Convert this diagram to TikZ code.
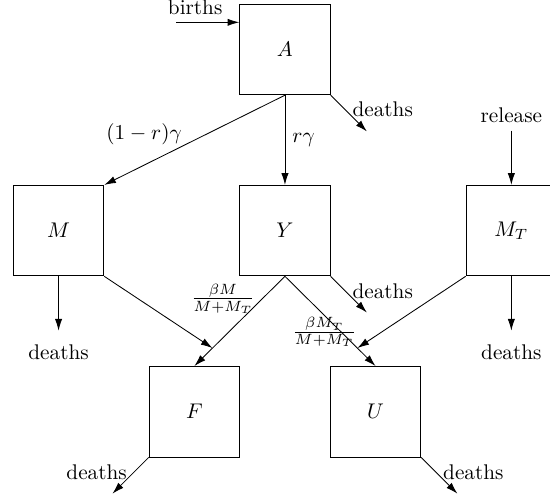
\documentclass[tikz,border=0pt]{standalone}
\usepackage{amsmath}
\usepackage{tikz}
\usetikzlibrary{positioning, arrows.meta}

\begin{document}
\begin{tikzpicture}[>={Latex[length=5.5pt, width=3.4pt]}, node distance=3cm,
    box/.style={draw, rectangle, minimum size=1.5cm}]
  \useasboundingbox (-4.72,-4.47) rectangle (4.39,3.82);

  % Nodes for compartments
  \node [box] (Y) {$Y$};
  \node [box, above of=Y] (A) {$A$};
  \node [box, left of=Y, node distance=3.75cm] (M) {$M$};
  \node [box, right of=Y, node distance=3.75cm] (MT) {$M_T$};
  \node [box] (F) at (-1.5,-3) {$F$};
  \node [box] (U) at (1.5,-3) {$U$};

  % Inflows
  \coordinate (birthsin) at (-1.8,3.45);
  \coordinate (releasein) at ([yshift=0.9cm]MT.north);
  \draw [->] (birthsin) -- (A.west |- birthsin) node [pos=0.3, above] {births};
  \draw [->] (releasein) -- (MT.north) node [pos=0, above] {release};

  % Arrows between compartments
  \draw [->] (A.south) -- (M.north east) node [pos=0.53, left, yshift=4pt] {$(1-r)\gamma$};
  \draw [->] (A.south) -- (Y.north) node [midway, right] {$r\gamma$};
  \draw [->] (Y.south) -- (F.north) coordinate [pos=0.8] (YF)
    node [pos=0.25, left] {$\frac{\beta M}{M+M_T}$};
  \draw [->] (Y.south) -- (U.north) coordinate [pos=0.8] (YU)
    node [pos=0.87, above left] {$\frac{\beta M_T}{M+M_T}$};
  \draw [->] (M.south east) -- (YF);
  \draw [->] (MT.south west) -- (YU);

  % Deaths
  \draw [->] (A.south east) -- ++(0.6,-0.6) node [pos=0.4, right] {deaths};
  \draw [->] (Y.south east) -- ++(0.6,-0.6) node [pos=0.4, right] {deaths};
  \draw [->] (M.south) -- ++(0,-0.9) node [below=3pt] {deaths};
  \draw [->] (MT.south) -- ++(0,-0.9) node [below=3pt] {deaths};
  \draw [->] (F.south west) -- ++(-0.6,-0.6) node [pos=0.4, left] {deaths};
  \draw [->] (U.south east) -- ++(0.6,-0.6) node [pos=0.4, right] {deaths};
\end{tikzpicture}
\end{document}
